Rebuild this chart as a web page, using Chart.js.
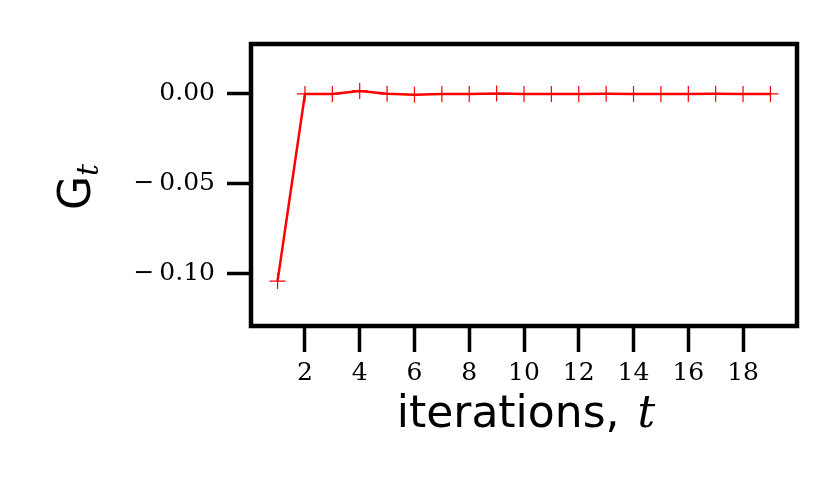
<!DOCTYPE html>
<html>
<head>
<meta charset="utf-8">
<script src="https://cdn.jsdelivr.net/npm/chart.js@4.4.1/dist/chart.umd.min.js"></script>
<style>
  html, body { margin: 0; padding: 0; background: #fff; }
  #wrap { width: 840px; height: 480px; }
</style>
</head>
<body>
<div id="wrap"><canvas id="gChart" width="840" height="480"></canvas></div>
<script>
    // data
    const iterations = [1, 2, 3, 4, 5, 6, 7, 8, 9, 10, 11, 12, 13, 14, 15, 16, 17, 18, 19];
    const gValues = [-0.1045, 0, 0, 0.0017, 0.0001, -0.0004, 0, 0, 0.0002, 0, 0, 0, 0.0001, 0, 0, 0, 0.0001, 0, 0];
    const xTicks = [2, 4, 6, 8, 10, 12, 14, 16, 18];
    const yTicks = [-0.10, -0.05, 0.00];

    const tickFont = { family: '"DejaVu Serif", serif', size: 25 };

    // frame round the plot area and the two axis titles
    const framePlugin = {
        id: 'frame',
        afterDraw(chart) {
            const { ctx, chartArea: a } = chart;
            ctx.save();
            ctx.strokeStyle = '#000';
            ctx.lineWidth = 4.5;
            ctx.strokeRect(a.left, a.top, a.right - a.left, a.bottom - a.top);

            ctx.fillStyle = '#000';
            ctx.textBaseline = 'alphabetic';
            // x title
            const main = 'iterations, ';
            ctx.font = '44px "DejaVu Sans"';
            const w1 = ctx.measureText(main).width;
            ctx.font = 'italic 44px "DejaVu Serif"';
            const w2 = ctx.measureText('t').width;
            let x0 = (a.left + a.right) / 2 - (w1 + w2) / 2;
            ctx.font = '44px "DejaVu Sans"';
            ctx.textAlign = 'left';
            ctx.fillText(main, x0, 427);
            ctx.font = 'italic 44px "DejaVu Serif"';
            ctx.fillText('t', x0 + w1 + 4, 427);

            // y title, rotated
            ctx.translate(90, (a.top + a.bottom) / 2);
            ctx.rotate(-Math.PI / 2);
            ctx.font = '44px "DejaVu Sans"';
            const gw = ctx.measureText('G').width;
            ctx.fillText('G', -gw / 2 - 8, 0);
            ctx.font = 'italic 30px "DejaVu Serif"';
            ctx.fillText('t', gw / 2 - 8, 8);
            ctx.restore();
        }
    };

    const config = {
        type: 'line',
        data: {
            labels: iterations,
            datasets: [{
                label: 'G_t',
                data: iterations.map((t, i) => ({ x: t, y: gValues[i] })),
                borderColor: '#ff0000',
                backgroundColor: '#ff0000',
                borderWidth: 2.5,
                pointStyle: 'cross',
                pointRadius: 8,
                pointBorderWidth: 1.2,
                pointHoverRadius: 8,
                tension: 0,
                fill: false
            }]
        },
        options: {
            responsive: false,
            animation: false,
            events: [],
            layout: { padding: { top: 44, right: 43, left: 0, bottom: 0 } },
            plugins: { legend: { display: false }, tooltip: { enabled: false } },
            scales: {
                x: {
                    type: 'linear',
                    min: 0.03,
                    max: 19.97,
                    afterBuildTicks: s => { s.ticks = xTicks.map(v => ({ value: v })); },
                    afterFit: s => { s.height = 154; },
                    border: { display: false },
                    grid: { drawOnChartArea: false, drawTicks: true, tickLength: 26, tickWidth: 3.5, tickColor: '#000' },
                    ticks: { color: '#000', font: tickFont, padding: 6, maxRotation: 0, autoSkip: false }
                },
                y: {
                    type: 'linear',
                    min: -0.1296,
                    max: 0.0279,
                    afterBuildTicks: s => { s.ticks = yTicks.map(v => ({ value: v })); },
                    afterFit: s => { s.width = 251; },
                    border: { display: false },
                    grid: { drawOnChartArea: false, drawTicks: true, tickLength: 24, tickWidth: 3.5, tickColor: '#000' },
                    ticks: {
                        color: '#000', font: tickFont, padding: 12, autoSkip: false,
                        callback: v => (v < 0 ? '\u2212\u2009' : '') + Math.abs(v).toFixed(2)
                    }
                }
            }
        },
        plugins: [framePlugin]
    };

    const ctx = document.getElementById('gChart').getContext('2d');
    const gChart = new Chart(ctx, config);
</script>
</body>
</html>
